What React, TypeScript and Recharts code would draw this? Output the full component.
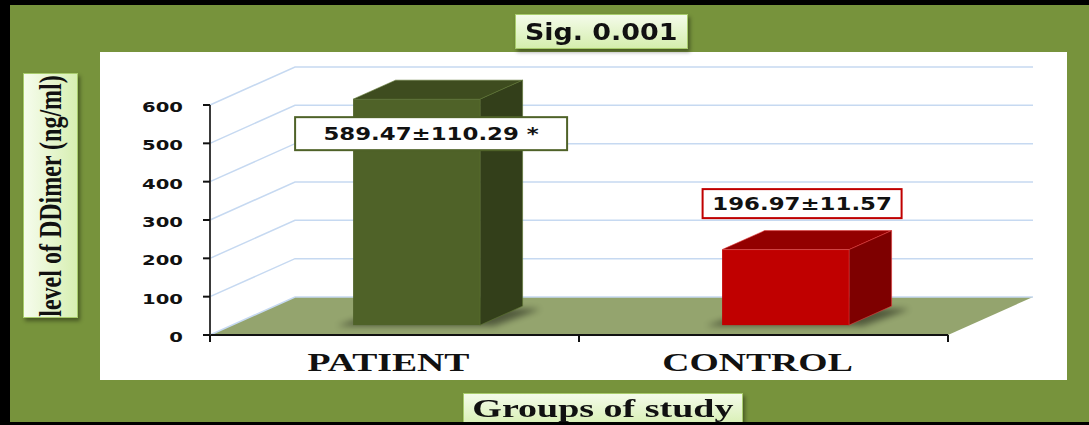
import React from 'react';
import { BarChart, Bar, XAxis, YAxis, CartesianGrid, LabelList } from 'recharts';

// ---- data ----
const categories = ['PATIENT', 'CONTROL'];
const means = [589.47, 196.97];
const valueLabels = ['589.47±110.29 *', '196.97±11.57'];
const yTicks = [0, 100, 200, 300, 400, 500, 600];
const chartTitle = 'Sig. 0.001';
const yTitle = 'level of DDimer (ng/ml)';
const xTitle = 'Groups of study';

const data = categories.map((c, i) => ({ name: c, value: means[i], label: valueLabels[i] }));

// ---- styling / layout ----
const DEPTH_X = 85;
const DEPTH_Y = 38;
const BAR_FRONT = 0.26;
const BAR_BACK = 0.76;
const X_TICK_MARGIN = 20;

const barColors = [
  { front: '#4f6228', top: '#3e4c1f', side: '#333f1a', edge: '#5d7330' },
  { front: '#c00000', top: '#930000', side: '#7e0000', edge: '#e23b3b' },
];
const labelStyles = [
  { border: '#4f6228', w: 272, h: 33, dx: 14.5, dy: 34.5 },
  { border: '#c00000', w: 199, h: 29, dx: 16.5, dy: -46 },
];

const Bar3D = (props: any) => {
  const { x, y, width, height, index } = props;
  const c = barColors[index % barColors.length];
  const fx = x + DEPTH_X * BAR_FRONT;
  const fy = y - DEPTH_Y * BAR_FRONT;
  const dx = DEPTH_X * (BAR_BACK - BAR_FRONT);
  const dy = DEPTH_Y * (BAR_BACK - BAR_FRONT);
  const bottom = fy + height;
  return (
    <g>
      <polygon
        points={`${fx - 16},${bottom + 1} ${fx + width + 14},${bottom + 1} ${fx + width + dx + 18},${bottom - dy + 3} ${fx + dx},${bottom - dy}`}
        fill="#000"
        opacity={0.45}
        filter="url(#barShadow)"
      />
      <rect x={fx} y={fy} width={width} height={height} fill={c.front} />
      <polygon
        points={`${fx},${fy} ${fx + dx},${fy - dy} ${fx + width + dx},${fy - dy} ${fx + width},${fy}`}
        fill={c.top}
        stroke={c.edge}
        strokeWidth={0.6}
      />
      <polygon
        points={`${fx + width},${fy} ${fx + width + dx},${fy - dy} ${fx + width + dx},${bottom - dy} ${fx + width},${bottom}`}
        fill={c.side}
        stroke={c.edge}
        strokeWidth={0.6}
      />
    </g>
  );
};

const renderValueLabel = (props: any) => {
  const { x, y, width, value, index } = props;
  const s = labelStyles[index % labelStyles.length];
  const fx = x + DEPTH_X * BAR_FRONT;
  const fy = y - DEPTH_Y * BAR_FRONT;
  const cx = fx + width / 2 + s.dx;
  const cy = fy + s.dy;
  return (
    <g key={`lbl-${index}`}>
      <rect x={cx - s.w / 2} y={cy - s.h / 2} width={s.w} height={s.h} fill="#ffffff" stroke={s.border} strokeWidth={2} />
      <text
        x={0}
        y={0}
        transform={`translate(${cx},${cy + 6.6}) scale(1.27,1)`}
        textAnchor="middle"
        fontFamily="'DejaVu Sans', sans-serif"
        fontWeight="bold"
        fontSize={18}
        fill="#111"
      >
        {value}
      </text>
    </g>
  );
};

const renderGridLine = (p: any) => {
  const { x1, y1, x2, index } = p;
  const by = y1 - DEPTH_Y;
  const bx1 = x1 + DEPTH_X;
  const bx2 = x2 + DEPTH_X;
  const isFloor =
    p.y != null && p.height != null ? Math.abs(y1 - (p.y + p.height)) < 0.5 : index === 0;
  return (
    <g key={`grid-${index}`}>
      {isFloor && (
        <polygon points={`${x1},${y1} ${x2},${y1} ${bx2},${by} ${bx1},${by}`} fill="#94a46e" />
      )}
      <polyline
        points={`${x1},${y1} ${bx1},${by} ${bx2},${by}`}
        fill="none"
        stroke="#c6d9f1"
        strokeWidth={1.5}
      />
    </g>
  );
};

const YTick = (props: any) => {
  const { x, y, payload } = props;
  return (
    <text
      x={0}
      y={0}
      transform={`translate(${x},${y + 7}) scale(1.4,1)`}
      textAnchor="end"
      fontFamily="'DejaVu Sans', sans-serif"
      fontWeight="bold"
      fontSize={14}
      fill="#111"
    >
      {payload.value}
    </text>
  );
};

const XTick = (props: any) => {
  const { x, y, payload, index, visibleTicksCount } = props;
  const axisY = y - X_TICK_MARGIN;
  const half = payload && payload.offset != null ? payload.offset : 0;
  return (
    <g>
      {half > 0 && (
        <line x1={x - half} x2={x - half} y1={axisY} y2={axisY + 7} stroke="#111" strokeWidth={2} />
      )}
      {half > 0 && index === visibleTicksCount - 1 && (
        <line x1={x + half} x2={x + half} y1={axisY} y2={axisY + 7} stroke="#111" strokeWidth={2} />
      )}
      <text
        x={0}
        y={0}
        transform={`translate(${x - 6},${axisY + 36}) scale(1.45,1)`}
        textAnchor="middle"
        fontFamily="'Liberation Serif', 'Times New Roman', serif"
        fontWeight="bold"
        fontSize={26}
        fill="#111"
      >
        {payload.value}
      </text>
    </g>
  );
};

const boxBase: React.CSSProperties = {
  position: 'absolute',
  boxSizing: 'border-box',
  border: '1.5px solid #a8cc6c',
  boxShadow: '2px 3px 4px rgba(0,0,0,0.4)',
  display: 'flex',
  alignItems: 'center',
  justifyContent: 'center',
  whiteSpace: 'nowrap',
  color: '#111',
};

export default function App() {
  return (
    <div
      style={{
        position: 'absolute',
        left: 0,
        top: 0,
        width: 1089,
        height: 425,
        background: '#77933c',
        overflow: 'hidden',
      }}
    >
      <div style={{ position: 'absolute', left: 0, top: 0, width: 1089, height: 5, background: '#000' }} />
      <div style={{ position: 'absolute', left: 0, top: 0, width: 10, height: 425, background: '#000' }} />
      <div style={{ position: 'absolute', left: 100, top: 52, width: 967, height: 328, background: '#ffffff' }} />

      <div style={{ position: 'absolute', left: 0, top: 0 }}>
        <BarChart
          width={1089}
          height={425}
          data={data}
          margin={{ top: 105, right: 141, bottom: 60, left: 150 }}
        >
          <defs>
            <filter id="barShadow" x="-20%" y="-50%" width="140%" height="200%">
              <feGaussianBlur stdDeviation="3" />
            </filter>
          </defs>
          <CartesianGrid vertical={false} horizontal={renderGridLine as any} />
          <XAxis
            dataKey="name"
            type="category"
            height={30}
            axisLine={{ stroke: '#111', strokeWidth: 2 }}
            tickLine={false}
            tickSize={0}
            tickMargin={X_TICK_MARGIN}
            tick={<XTick />}
            interval={0}
          />
          <YAxis
            type="number"
            domain={[0, 600]}
            ticks={yTicks}
            interval={0}
            width={60}
            axisLine={{ stroke: '#3a3a3a', strokeWidth: 2 }}
            tickLine={{ stroke: '#111', strokeWidth: 2 }}
            tickSize={7}
            tickMargin={20}
            tick={<YTick />}
          />
          <Bar dataKey="value" barSize={127} shape={<Bar3D />} isAnimationActive={false}>
            <LabelList dataKey="label" content={renderValueLabel} />
          </Bar>
        </BarChart>
      </div>

      <div
        style={{
          ...boxBase,
          left: 515,
          top: 14,
          width: 173,
          height: 35,
          background: 'linear-gradient(#f4fbea, #d5eeae)',
        }}
      >
        <span
          style={{
            display: 'inline-block',
            fontFamily: "'DejaVu Sans', sans-serif",
            fontWeight: 'bold',
            fontSize: 23,
            transform: 'scaleX(1.17)',
          }}
        >
          {chartTitle}
        </span>
      </div>

      <div
        style={{
          ...boxBase,
          left: 23,
          top: 73,
          width: 55,
          height: 245,
          background: 'linear-gradient(to right, #f6fced, #d7efb2)',
        }}
      >
        <span
          style={{
            position: 'absolute',
            left: '50%',
            top: '50%',
            fontFamily: "'Liberation Serif', 'Times New Roman', serif",
            fontWeight: 'bold',
            fontSize: 24,
            whiteSpace: 'nowrap',
            transform: 'translate(-50%, -50%) rotate(-90deg) scaleY(1.35)',
          }}
        >
          {yTitle}
        </span>
      </div>

      <div
        style={{
          ...boxBase,
          left: 463,
          top: 393,
          width: 280,
          height: 36,
          background: 'linear-gradient(#f4fbea, #d5eeae)',
          alignItems: 'flex-start',
        }}
      >
        <span
          style={{
            display: 'inline-block',
            fontFamily: "'Liberation Serif', 'Times New Roman', serif",
            fontWeight: 'bold',
            fontSize: 25,
            lineHeight: '30px',
            transform: 'scaleX(1.52)',
          }}
        >
          {xTitle}
        </span>
      </div>
      <div style={{ position: 'absolute', left: 0, top: 422, width: 1089, height: 3, background: '#000' }} />
    </div>
  );
}
